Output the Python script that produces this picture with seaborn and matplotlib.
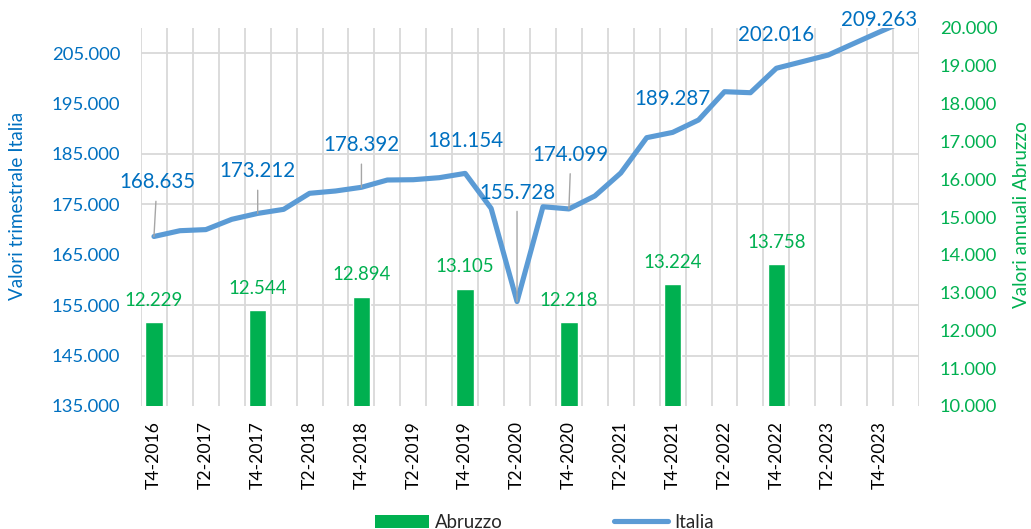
import numpy as np
import matplotlib.pyplot as plt
import matplotlib.ticker as mticker
from matplotlib.patches import Patch
from matplotlib.lines import Line2D
import seaborn as sns

# trimestri (l'ultimo non ha etichetta sull'asse)
quarters = ['T4-2016', 'T1-2017', 'T2-2017', 'T3-2017', 'T4-2017',
            'T1-2018', 'T2-2018', 'T3-2018', 'T4-2018',
            'T1-2019', 'T2-2019', 'T3-2019', 'T4-2019',
            'T1-2020', 'T2-2020', 'T3-2020', 'T4-2020',
            'T1-2021', 'T2-2021', 'T3-2021', 'T4-2021',
            'T1-2022', 'T2-2022', 'T3-2022', 'T4-2022',
            'T1-2023', 'T2-2023', 'T3-2023', 'T4-2023', 'T1-2024']

# valori trimestrali Italia
italia = [168635, 169780, 170000, 172040, 173212,
          174020, 177200, 177660, 178392,
          179840, 179900, 180300, 181154,
          174220, 155728, 174540, 174099,
          176670, 181230, 188240, 189287,
          191750, 197360, 197160, 202016,
          203320, 204640, 206960, 209263, 211500]

# valori annuali Abruzzo (al T4 di ogni anno)
abruzzo_quarters = ['T4-2016', 'T4-2017', 'T4-2018', 'T4-2019',
                    'T4-2020', 'T4-2021', 'T4-2022']
abruzzo = [12229, 12544, 12894, 13105, 12218, 13224, 13758]

# etichette della linea: trimestre -> (dx, dy in pixel, linea guida)
italia_labels = {
    'T4-2016': (3, 54, True),
    'T4-2017': (0, 42, True),
    'T4-2018': (0, 42, True),
    'T4-2019': (0, 32, False),
    'T2-2020': (0, 109, True),
    'T4-2020': (2, 54, True),
    'T4-2021': (0, 33, False),
    'T4-2022': (0, 33, False),
    'T4-2023': (-1, 12, False),
}

BLUE_LINE = '#5B9BD5'
BLUE_TXT = '#0070C0'
GREEN = '#00B050'
GRID = '#D9D9D9'


def fmt_it(v):
    return f"{v:,.0f}".replace(',', '.')


sns.set_style('white')
plt.rcParams['font.family'] = ['Lato', 'DejaVu Sans']

fig = plt.figure(figsize=(10.31, 5.29), dpi=100)
ax_bar = fig.add_axes([141 / 1031, 1 - 406 / 529, 778 / 1031, 378 / 529])
ax_line = ax_bar.twinx()

# barre Abruzzo (asse destro)
sns.barplot(x=abruzzo_quarters, y=abruzzo, order=quarters, ax=ax_bar,
            color=GREEN, saturation=1, width=0.67, zorder=2)
ax_bar.bar_label(ax_bar.containers[0], fmt=fmt_it, padding=9.5,
                 color=GREEN, fontsize=13.4)

# linea Italia (asse sinistro)
x = np.arange(len(quarters))
sns.lineplot(x=x, y=italia, ax=ax_line, color=BLUE_LINE, linewidth=3.7,
             sort=False, solid_capstyle='round', solid_joinstyle='round')

for q, (dx, dy, leader) in italia_labels.items():
    i = quarters.index(q)
    arrow = dict(arrowstyle='-', color='#A6A6A6', lw=1, shrinkA=4, shrinkB=0) if leader else None
    ax_line.annotate(fmt_it(italia[i]), xy=(i, italia[i]), xytext=(dx, dy),
                     textcoords='offset pixels', ha='center', va='center',
                     color=BLUE_TXT, fontsize=14.8, arrowprops=arrow,
                     annotation_clip=False)

# assi
ax_bar.set_xlim(-0.5, len(quarters) - 0.5)
ax_bar.set_ylim(10000, 20000)
ax_line.set_ylim(135000, 210000)

ax_bar.yaxis.tick_right()
ax_bar.yaxis.set_label_position('right')
ax_line.yaxis.tick_left()
ax_line.yaxis.set_label_position('left')

ax_bar.yaxis.set_major_locator(mticker.MultipleLocator(1000))
ax_bar.yaxis.set_major_formatter(mticker.FuncFormatter(lambda v, p: fmt_it(v)))
left_ticks = np.arange(135000, 205001, 10000)
ax_line.set_yticks(left_ticks)
ax_line.yaxis.set_major_formatter(mticker.FuncFormatter(lambda v, p: fmt_it(v)))

ax_bar.set_xticks(x[::2])
ax_bar.set_xticklabels(quarters[::2], rotation=90)

# griglia sotto le barre
grid_y = 10000 + (left_ticks - 135000) * 10000 / 75000
ax_bar.yaxis.set_minor_locator(mticker.FixedLocator(grid_y))
ax_bar.xaxis.set_minor_locator(mticker.FixedLocator(np.arange(-0.5, len(quarters), 1)))
ax_bar.grid(False, which='major')
ax_bar.grid(True, which='minor', color=GRID, linewidth=1.3)
ax_bar.set_axisbelow(True)

ax_bar.tick_params(axis='x', which='both', length=0, pad=11, labelsize=12.6, labelcolor='black')
ax_bar.tick_params(axis='y', which='both', length=0, pad=15, labelsize=13.2, labelcolor=GREEN)
ax_line.tick_params(axis='y', length=0, pad=15, labelsize=13.3, labelcolor=BLUE_TXT)

for a in (ax_bar, ax_line):
    for s in a.spines.values():
        s.set_visible(False)

ax_bar.set_xlabel('')
ax_line.set_xlabel('')
ax_line.set_ylabel('Valori trimestrale Italia', color=BLUE_TXT, fontsize=13.6)
ax_bar.set_ylabel('Valori annuali Abruzzo', color=GREEN, fontsize=13.6)
ax_line.yaxis.set_label_coords(-0.148, 0.53)
ax_bar.yaxis.set_label_coords(1.121, 0.505)

handles = [Patch(facecolor=GREEN, edgecolor='none'),
           Line2D([], [], color=BLUE_LINE, linewidth=3.7, solid_capstyle='round')]
fig.legend(handles, ['Abruzzo', 'Italia'], loc='center', bbox_to_anchor=(0.528, 0.013),
           ncol=2, frameon=False, handlelength=2.9, handletextpad=0.3,
           columnspacing=6, fontsize=13.4)

fig.savefig('out.png', dpi=100)
